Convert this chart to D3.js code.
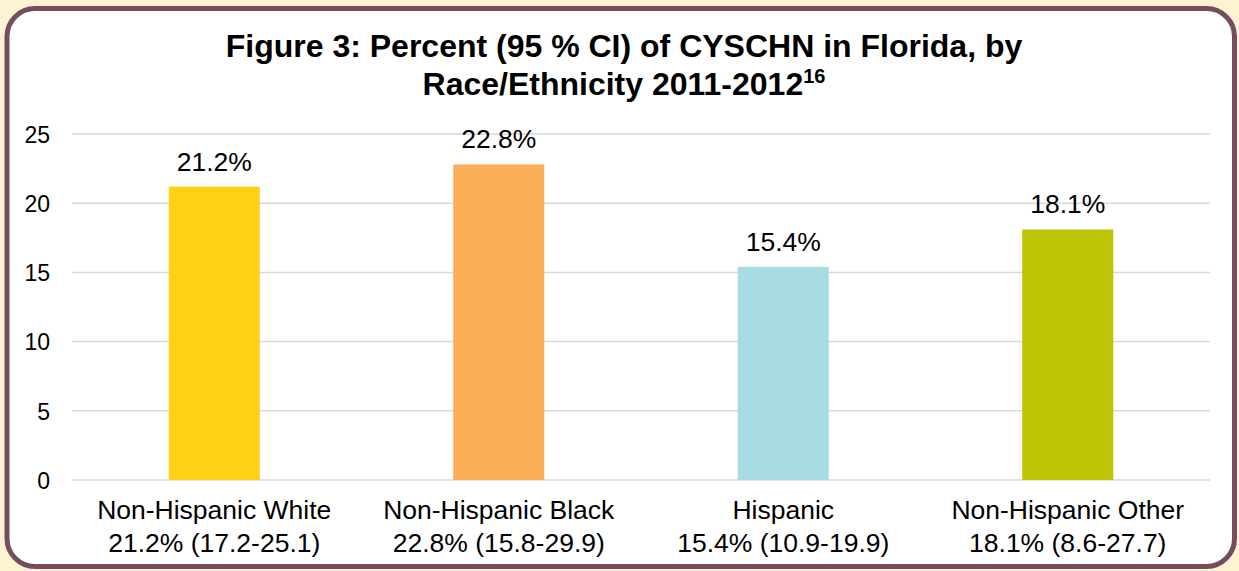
<!DOCTYPE html>
<html>
<head>
<meta charset="utf-8">
<script src="https://cdn.jsdelivr.net/npm/d3@7"></script>
<style>
  html, body { margin: 0; padding: 0; background: #fdf3d3; }
  svg { display: block; font-family: Arial, "Liberation Sans", sans-serif; }
</style>
</head>
<body>
<svg id="chart" width="1239" height="571"></svg>
<script>
// CYSCHN prevalence in Florida by race/ethnicity, 2011-2012
const categories = ["Non-Hispanic White", "Non-Hispanic Black", "Hispanic", "Non-Hispanic Other"];
const values = [21.2, 22.8, 15.4, 18.1];
const ciLow = [17.2, 15.8, 10.9, 8.6];
const ciHigh = [25.1, 29.9, 19.9, 27.7];
const colors = ["#fcd116", "#fbad57", "#a8dce3", "#bcc404"];
const yTicks = [0, 5, 10, 15, 20, 25];

const svg = d3.select("#chart");
const W = 1239, H = 571;

// rounded card frame
svg.append("rect")
  .attr("x", 0).attr("y", 0).attr("width", W).attr("height", H)
  .attr("fill", "#fdf3d3");
svg.append("rect")
  .attr("x", 7).attr("y", 8.5).attr("width", 1227.5).attr("height", 558)
  .attr("rx", 28).attr("ry", 28)
  .attr("fill", "#ffffff")
  .attr("stroke", "#764d5e").attr("stroke-width", 5);

const plot = { left: 72, right: 1210, top: 134, bottom: 480 };

const x = d3.scaleBand()
  .domain(categories)
  .range([plot.left, plot.right])
  .paddingInner(0.68).paddingOuter(0.34);

const y = d3.scaleLinear()
  .domain([0, 25])
  .range([plot.bottom, plot.top]);

// gridlines
svg.append("g")
  .selectAll("line")
  .data(yTicks)
  .join("line")
  .attr("x1", plot.left).attr("x2", plot.right)
  .attr("y1", d => y(d)).attr("y2", d => y(d))
  .attr("stroke", "#d9d9d9").attr("stroke-width", 1.5);

// y axis labels
const yAxis = d3.axisLeft(y).tickValues(yTicks).tickSize(0).tickPadding(0);
svg.append("g")
  .attr("transform", `translate(50,0)`)
  .call(yAxis)
  .call(g => g.select(".domain").remove())
  .call(g => g.selectAll("text")
    .attr("font-size", 23)
    .attr("font-family", "Arial, 'Liberation Sans', sans-serif")
    .attr("fill", "#000")
    .attr("dy", "0.36em"));

// bars
svg.append("g")
  .selectAll("rect")
  .data(categories)
  .join("rect")
  .attr("x", d => x(d))
  .attr("width", x.bandwidth())
  .attr("y", (d, i) => y(values[i]))
  .attr("height", (d, i) => y(0) - y(values[i]))
  .attr("fill", (d, i) => colors[i]);

// value labels
svg.append("g")
  .selectAll("text")
  .data(categories)
  .join("text")
  .attr("x", d => x(d) + x.bandwidth() / 2)
  .attr("y", (d, i) => y(values[i]) - 16)
  .attr("text-anchor", "middle")
  .attr("font-size", 26.5)
  .attr("fill", "#000")
  .text((d, i) => values[i].toFixed(1) + "%");

// category labels with CI
const xl = svg.append("g")
  .selectAll("text")
  .data(categories)
  .join("text")
  .attr("text-anchor", "middle")
  .attr("font-size", 26.5)
  .attr("fill", "#000");
xl.append("tspan")
  .attr("x", d => x(d) + x.bandwidth() / 2)
  .attr("y", 519)
  .text(d => d);
xl.append("tspan")
  .attr("x", d => x(d) + x.bandwidth() / 2)
  .attr("y", 552)
  .text((d, i) => `${values[i].toFixed(1)}% (${ciLow[i]}-${ciHigh[i]})`);

// title
const title = svg.append("text")
  .attr("text-anchor", "middle")
  .attr("font-size", 32)
  .attr("font-weight", "bold")
  .attr("fill", "#000");
title.append("tspan").attr("x", 624).attr("y", 57)
  .text("Figure 3: Percent (95 % CI) of CYSCHN in Florida, by");
const t2 = title.append("tspan").attr("x", 624).attr("y", 95);
t2.append("tspan").text("Race/Ethnicity 2011-2012");
t2.append("tspan").attr("font-size", 20).attr("dy", -12).text("16");
</script>
</body>
</html>
